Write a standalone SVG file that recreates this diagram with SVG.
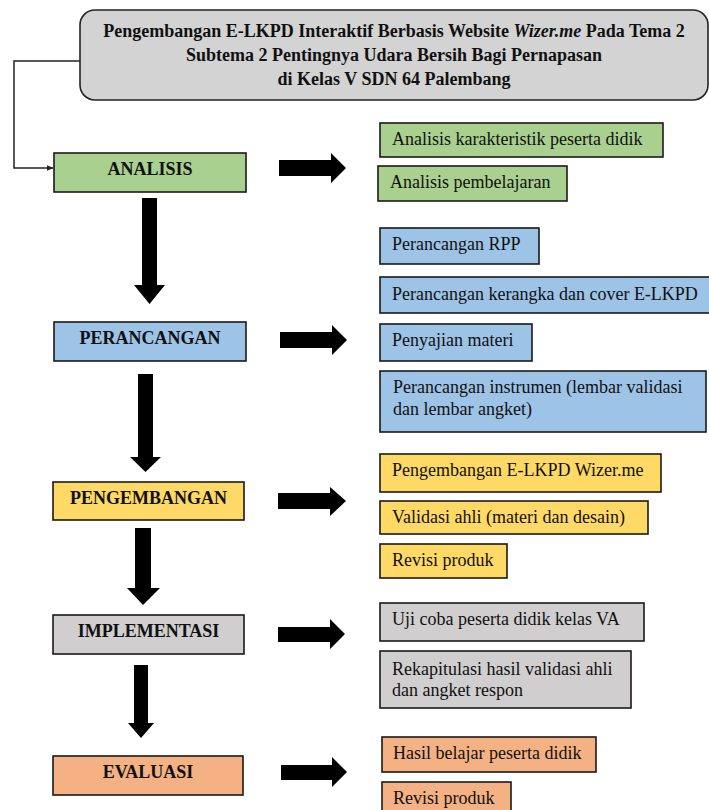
<svg xmlns="http://www.w3.org/2000/svg" width="709" height="810" viewBox="0 0 709 810">
<defs>
<style>
.box{stroke:#1a1a1a;stroke-width:1.6}
.g{fill:#a9d08e}.b{fill:#9dc3e6}.y{fill:#ffd966}.gr{fill:#d0cece}.o{fill:#f4b183}
.t{font-family:"Liberation Serif","Times New Roman",serif;font-size:18px;fill:#111}
.h{font-weight:bold;text-anchor:middle}
.arr{fill:#000}
</style>
<marker id="tip" viewBox="0 0 10 10" refX="9" refY="5" markerWidth="7" markerHeight="7" orient="auto" markerUnits="userSpaceOnUse">
<path d="M0,1 L10,5 L0,9 z" fill="#222"/>
</marker>
</defs>
<rect width="709" height="810" fill="#fff"/>

<g id="title">
<rect x="80" y="10" width="628" height="90" rx="15" ry="15" fill="#d3d3d3" stroke="#222" stroke-width="1.6"/>
<text class="t h" x="394" y="37">Pengembangan E-LKPD Interaktif Berbasis Website <tspan font-style="italic">Wizer.me</tspan> Pada Tema 2</text>
<text class="t h" x="394" y="61">Subtema 2 Pentingnya Udara Bersih Bagi Pernapasan</text>
<text class="t h" x="394" y="85">di Kelas V SDN 64 Palembang</text>
</g>

<g id="connectors">
<polyline points="80,61 14,61 14,168 53,168" fill="none" stroke="#222" stroke-width="1.5" marker-end="url(#tip)"/>
<!-- right arrows -->
<polygon class="arr" points="279,160 331,160 331,153 346,168 331,183 331,176 279,176"/>
<polygon class="arr" points="280,332 332,332 332,325 347,340 332,355 332,348 280,348"/>
<polygon class="arr" points="278,493 330,493 330,487 346,501 330,516 330,509 278,509"/>
<polygon class="arr" points="278,627 330,627 330,619 345,634 330,649 330,642 278,642"/>
<polygon class="arr" points="281,765 332,765 332,757 347,772 332,787 332,780 281,780"/>
<!-- down arrows -->
<polygon class="arr" points="142,198 157,198 157,285 165,285 149.5,304 134,285 142,285"/>
<polygon class="arr" points="138,374 153,374 153,457 161,457 145.5,472 130,457 138,457"/>
<polygon class="arr" points="135,528 151,528 151,588 160,588 143,605 127,588 135,588"/>
<polygon class="arr" points="134,665 148,665 148,723 154,723 141,738 128,723 134,723"/>
</g>

<g id="analisis">
<rect class="box g" x="54" y="153" width="192" height="39"/>
<text class="t h" x="150" y="175">ANALISIS</text>
</g>
<g id="analisis-1">
<rect class="box g" x="380" y="123" width="283" height="34"/>
<text class="t" x="392" y="145">Analisis karakteristik peserta didik</text>
</g>
<g id="analisis-2">
<rect class="box g" x="378" y="166" width="189" height="35"/>
<text class="t" x="390" y="188">Analisis pembelajaran</text>
</g>

<g id="perancangan">
<rect class="box b" x="54" y="322" width="192" height="39"/>
<text class="t h" x="150" y="344">PERANCANGAN</text>
</g>
<g id="perancangan-1">
<rect class="box b" x="380" y="228" width="159" height="36"/>
<text class="t" x="392" y="250">Perancangan RPP</text>
</g>
<g id="perancangan-2">
<rect class="box b" x="380" y="277" width="335" height="36"/>
<text class="t" x="392" y="300">Perancangan kerangka dan cover E-LKPD</text>
</g>
<g id="perancangan-3">
<rect class="box b" x="380" y="324" width="152" height="37"/>
<text class="t" x="392" y="346">Penyajian materi</text>
</g>
<g id="perancangan-4">
<rect class="box b" x="380" y="371" width="326" height="61"/>
<text class="t" x="393" y="393">Perancangan instrumen (lembar validasi</text>
<text class="t" x="393" y="415">dan lembar angket)</text>
</g>

<g id="pengembangan">
<rect class="box y" x="53" y="482" width="191" height="38"/>
<text class="t h" x="148.5" y="504">PENGEMBANGAN</text>
</g>
<g id="pengembangan-1">
<rect class="box y" x="380" y="454" width="281" height="38"/>
<text class="t" x="392" y="476">Pengembangan E-LKPD Wizer.me</text>
</g>
<g id="pengembangan-2">
<rect class="box y" x="380" y="501" width="268" height="33"/>
<text class="t" x="392" y="523">Validasi ahli (materi dan desain)</text>
</g>
<g id="pengembangan-3">
<rect class="box y" x="380" y="544" width="127" height="34"/>
<text class="t" x="392" y="566">Revisi produk</text>
</g>

<g id="implementasi">
<rect class="box gr" x="53" y="615" width="191" height="39"/>
<text class="t h" x="148.5" y="637">IMPLEMENTASI</text>
</g>
<g id="implementasi-1">
<rect class="box gr" x="380" y="603" width="264" height="38"/>
<text class="t" x="392" y="625">Uji coba peserta didik kelas VA</text>
</g>
<g id="implementasi-2">
<rect class="box gr" x="380" y="651" width="251" height="57"/>
<text class="t" x="392" y="675">Rekapitulasi hasil validasi ahli</text>
<text class="t" x="392" y="696">dan angket respon</text>
</g>

<g id="evaluasi">
<rect class="box o" x="53" y="756" width="190" height="39"/>
<text class="t h" x="148" y="778">EVALUASI</text>
</g>
<g id="evaluasi-1">
<rect class="box o" x="382" y="737" width="214" height="35"/>
<text class="t" x="393" y="759">Hasil belajar peserta didik</text>
</g>
<g id="evaluasi-2">
<rect class="box o" x="382" y="782" width="129" height="34"/>
<text class="t" x="393" y="804">Revisi produk</text>
</g>
</svg>
